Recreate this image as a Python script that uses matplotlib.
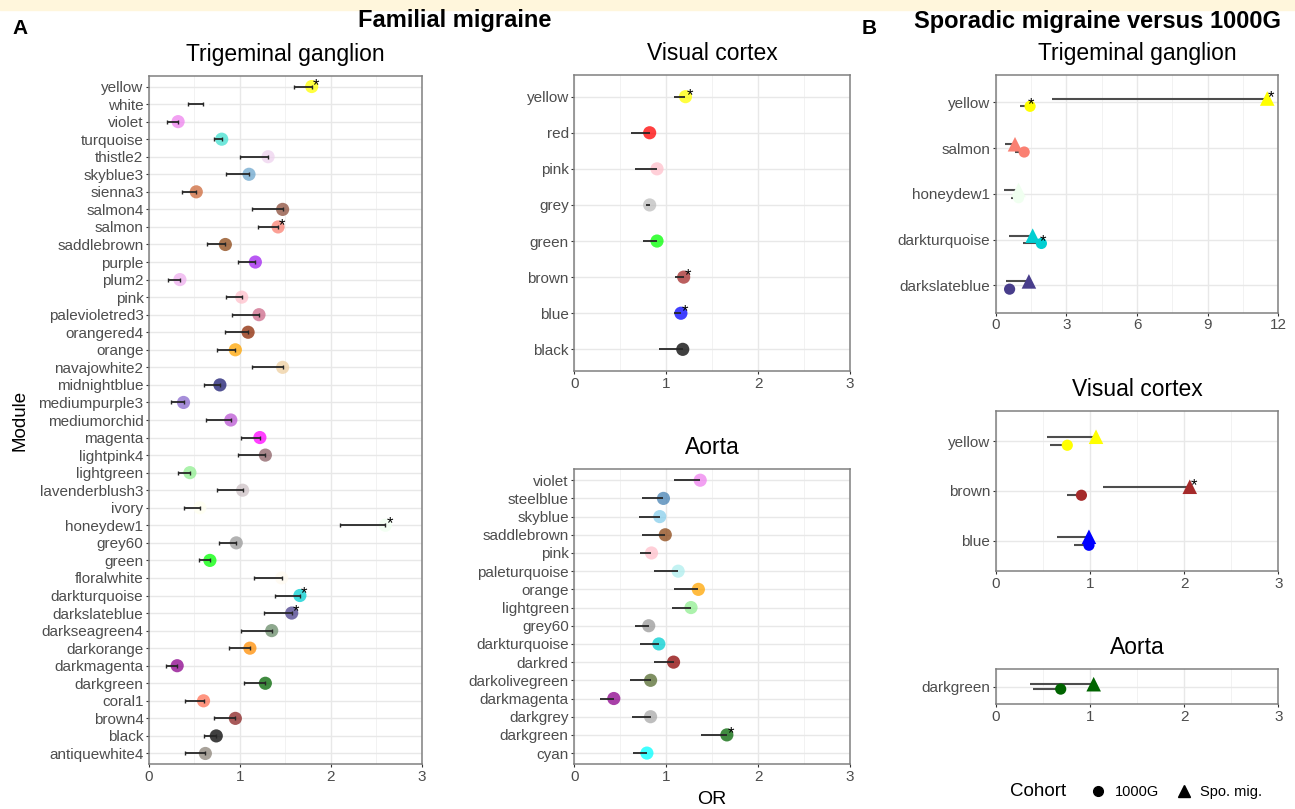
import matplotlib.pyplot as plt
from matplotlib.patches import Rectangle
from matplotlib.lines import Line2D
import numpy as np

plt.rcParams['font.family'] = ['Liberation Sans', 'DejaVu Sans']

# R colour names that matplotlib does not know (or knows differently)
rcol = {
    'thistle2': '#EED2EE', 'skyblue3': '#6CA6CD', 'sienna3': '#CD6839',
    'salmon4': '#8B4C39', 'plum2': '#EEAEEE', 'palevioletred3': '#CD6889',
    'orangered4': '#8B2500', 'navajowhite2': '#EECFA1', 'mediumpurple3': '#8968CD',
    'lightpink4': '#8B5F65', 'lavenderblush3': '#CDC1C5', 'honeydew1': '#F0FFF0',
    'grey60': '#999999', 'green': '#00FF00', 'darkseagreen4': '#698B69',
    'coral1': '#FF7256', 'brown4': '#8B2323', 'antiquewhite4': '#8B8378',
    'purple': '#A020F0', 'grey': '#BEBEBE', 'darkgrey': '#A9A9A9',
}

# A: familial migraine, trigeminal ganglion
tg_mod = ['yellow', 'white', 'violet', 'turquoise', 'thistle2', 'skyblue3', 'sienna3',
          'salmon4', 'salmon', 'saddlebrown', 'purple', 'plum2', 'pink', 'palevioletred3',
          'orangered4', 'orange', 'navajowhite2', 'midnightblue', 'mediumpurple3',
          'mediumorchid', 'magenta', 'lightpink4', 'lightgreen', 'lavenderblush3', 'ivory',
          'honeydew1', 'grey60', 'green', 'floralwhite', 'darkturquoise', 'darkslateblue',
          'darkseagreen4', 'darkorange', 'darkmagenta', 'darkgreen', 'coral1', 'brown4',
          'black', 'antiquewhite4']
tg_or = [1.79, 0.59, 0.32, 0.80, 1.31, 1.10, 0.52, 1.47, 1.42, 0.84, 1.17, 0.34, 1.02,
         1.21, 1.09, 0.95, 1.47, 0.78, 0.38, 0.90, 1.22, 1.28, 0.45, 1.03, 0.56, 2.60,
         0.96, 0.67, 1.46, 1.66, 1.57, 1.35, 1.11, 0.31, 1.28, 0.60, 0.95, 0.74, 0.62]
tg_lo = [1.59, 0.43, 0.20, 0.71, 1.00, 0.85, 0.36, 1.13, 1.20, 0.64, 0.98, 0.21, 0.85,
         0.91, 0.84, 0.75, 1.13, 0.61, 0.24, 0.63, 1.01, 0.98, 0.32, 0.75, 0.38, 2.10,
         0.77, 0.55, 1.16, 1.39, 1.26, 1.01, 0.88, 0.19, 1.05, 0.40, 0.71, 0.61, 0.40]
tg_star = ['yellow', 'salmon', 'honeydew1', 'darkturquoise', 'darkslateblue']

# A: visual cortex
vc_mod = ['yellow', 'red', 'pink', 'grey', 'green', 'brown', 'blue', 'black']
vc_or = [1.21, 0.82, 0.90, 0.82, 0.90, 1.19, 1.16, 1.18]
vc_lo = [1.08, 0.62, 0.66, 0.78, 0.75, 1.10, 1.09, 0.92]
vc_star = ['yellow', 'brown', 'blue']

# A: aorta
ao_mod = ['violet', 'steelblue', 'skyblue', 'saddlebrown', 'pink', 'paleturquoise',
          'orange', 'lightgreen', 'grey60', 'darkturquoise', 'darkred', 'darkolivegreen',
          'darkmagenta', 'darkgrey', 'darkgreen', 'cyan']
ao_or = [1.37, 0.97, 0.93, 0.99, 0.84, 1.13, 1.35, 1.27, 0.81, 0.92, 1.08, 0.83, 0.43,
         0.83, 1.66, 0.79]
ao_lo = [1.08, 0.74, 0.70, 0.74, 0.71, 0.87, 1.08, 1.06, 0.66, 0.72, 0.87, 0.61, 0.28,
         0.63, 1.38, 0.64]
ao_star = ['darkgreen']

# B: sporadic migraine vs 1000G (g = 1000G, s = Spo. mig.)
btg_mod = ['yellow', 'salmon', 'honeydew1', 'darkturquoise', 'darkslateblue']
btg_g_or = [1.46, 1.21, 0.97, 1.94, 0.59]
btg_g_lo = [1.03, 0.81, 0.64, 1.15, 0.50]
btg_s_or = [11.53, 0.82, 0.97, 1.57, 1.41]
btg_s_lo = [2.38, 0.41, 0.35, 0.58, 0.44]
btg_g_star = ['yellow', 'darkturquoise']
btg_s_star = ['yellow']

bvc_mod = ['yellow', 'brown', 'blue']
bvc_g_or = [0.76, 0.91, 0.99]
bvc_g_lo = [0.58, 0.76, 0.83]
bvc_s_or = [1.065, 2.06, 0.99]
bvc_s_lo = [0.54, 1.14, 0.65]
bvc_s_star = ['brown']

bao_mod = ['darkgreen']
bao_g_or = [0.69]
bao_g_lo = [0.40]
bao_s_or = [1.04]
bao_s_lo = [0.36]

W, H = 1295, 809
fig = plt.figure(figsize=(W / 100, H / 100), dpi=100)
fig.patches.append(Rectangle((0, 1 - 10 / H), 1, 10 / H, transform=fig.transFigure,
                             color='#FFF6DC', zorder=-1))


def add_ax(l, r, t, b):
    return fig.add_axes([l / W, 1 - b / H, (r - l) / W, (b - t) / H])


def frame(ax, mods, xmax, step, title):
    n = len(mods)
    ax.set_xlim(0, xmax)
    ax.set_ylim(n - 0.4, -0.6)
    ax.set_yticks(range(n), labels=mods)
    ax.set_xticks(np.arange(0, xmax + 0.01, step))
    ax.set_xticks(np.arange(step / 2, xmax, step), minor=True)
    ax.grid(which='major', color='#E8E8E8', lw=1.0)
    ax.grid(which='minor', axis='x', color='#F0F0F0', lw=0.6)
    ax.tick_params(which='minor', length=0)
    ax.tick_params(which='major', length=2.5, width=0.8, color='#333333',
                   labelcolor='#4D4D4D', labelsize=11, pad=1.5)
    for s in ax.spines.values():
        s.set_color('#808080')
        s.set_linewidth(1.1)
    ax.set_axisbelow(True)
    ax.set_title(title, fontsize=16.5, pad=11)


def panel_a(ax, mods, ors, los, stars, caps):
    y = np.arange(len(mods))
    ors = np.array(ors)
    los = np.array(los)
    cols = [rcol.get(m, m) for m in mods]
    ax.scatter(ors, y, s=90, c=cols, alpha=0.75, edgecolors='none', zorder=2)
    ax.errorbar(ors, y, xerr=[ors - los, np.zeros(len(y))], fmt='none', ecolor='#262626',
                elinewidth=1.3, capsize=caps, capthick=1, zorder=3)
    for m in stars:
        i = mods.index(m)
        ax.annotate('*', (ors[i], i), xytext=(3, 1), textcoords='offset points',
                    ha='center', va='center', fontsize=12, zorder=4)


def panel_b(ax, mods, g_or, g_lo, s_or, s_lo, g_star=(), s_star=()):
    d = 0.085
    y = np.arange(len(mods))
    cols = [rcol.get(m, m) for m in mods]
    ax.hlines(y + d, g_lo, g_or, color='#4D4D4D', lw=1.5, zorder=2)
    ax.hlines(y - d, s_lo, s_or, color='#4D4D4D', lw=1.5, zorder=2)
    ax.scatter(g_or, y + d, marker='o', s=65, c=cols, edgecolors='none', zorder=3)
    ax.scatter(s_or, y - d, marker='^', s=110, c=cols, edgecolors='none', zorder=3)
    for m in g_star:
        i = mods.index(m)
        ax.annotate('*', (g_or[i], i + d), xytext=(1, 1), textcoords='offset points',
                    ha='center', va='center', fontsize=12, zorder=4)
    for m in s_star:
        i = mods.index(m)
        ax.annotate('*', (s_or[i], i - d), xytext=(3, 1), textcoords='offset points',
                    ha='center', va='center', fontsize=12, zorder=4)


ax1 = add_ax(149, 421.7, 76, 764)
frame(ax1, tg_mod, 3, 1, 'Trigeminal ganglion')
panel_a(ax1, tg_mod, tg_or, tg_lo, tg_star, 1.5)

ax2 = add_ax(574.3, 850, 75, 371)
frame(ax2, vc_mod, 3, 1, 'Visual cortex')
panel_a(ax2, vc_mod, vc_or, vc_lo, vc_star, 0)

ax3 = add_ax(574.3, 850, 469.3, 764)
frame(ax3, ao_mod, 3, 1, 'Aorta')
panel_a(ax3, ao_mod, ao_or, ao_lo, ao_star, 0)

ax4 = add_ax(995.7, 1278.3, 75, 312.7)
frame(ax4, btg_mod, 12, 3, 'Trigeminal ganglion')
panel_b(ax4, btg_mod, btg_g_or, btg_g_lo, btg_s_or, btg_s_lo, btg_g_star, btg_s_star)

ax5 = add_ax(995.7, 1278.3, 411, 571)
frame(ax5, bvc_mod, 3, 1, 'Visual cortex')
panel_b(ax5, bvc_mod, bvc_g_or, bvc_g_lo, bvc_s_or, bvc_s_lo, (), bvc_s_star)

ax6 = add_ax(995.7, 1278.3, 669.3, 704)
frame(ax6, bao_mod, 3, 1, 'Aorta')
panel_b(ax6, bao_mod, bao_g_or, bao_g_lo, bao_s_or, bao_s_lo)

# labels and headings
fig.text(20 / W, 1 - 420 / H, 'Module', rotation=90, ha='center', va='center', fontsize=13.5)
fig.text(712 / W, 1 - 800 / H, 'OR', ha='center', va='center', fontsize=14)
fig.text(12 / W, 1 - 34 / H, 'A', fontsize=15, fontweight='bold', va='baseline')
fig.text(862 / W, 1 - 34 / H, 'B', fontsize=15, fontweight='bold', va='baseline')
fig.text(455 / W, 1 - 27 / H, 'Familial migraine', fontsize=17, fontweight='bold',
         ha='center', va='baseline')
fig.text(1097 / W, 1 - 28 / H, 'Sporadic migraine versus 1000G', fontsize=17,
         fontweight='bold', ha='center', va='baseline')

# legend
fig.text(1010 / W, 1 - 792 / H, 'Cohort', fontsize=13.5, va='center')
handles = [Line2D([], [], marker='o', color='black', ls='none', markersize=7),
           Line2D([], [], marker='^', color='black', ls='none', markersize=9)]
fig.legend(handles, ['1000G', 'Spo. mig.'], ncol=2, loc='center left',
           bbox_to_anchor=(1078 / W, 1 - 792 / H), frameon=False, fontsize=10.5,
           handletextpad=0.6, columnspacing=1.2, handlelength=1)

fig.savefig('out.png', dpi=100)
